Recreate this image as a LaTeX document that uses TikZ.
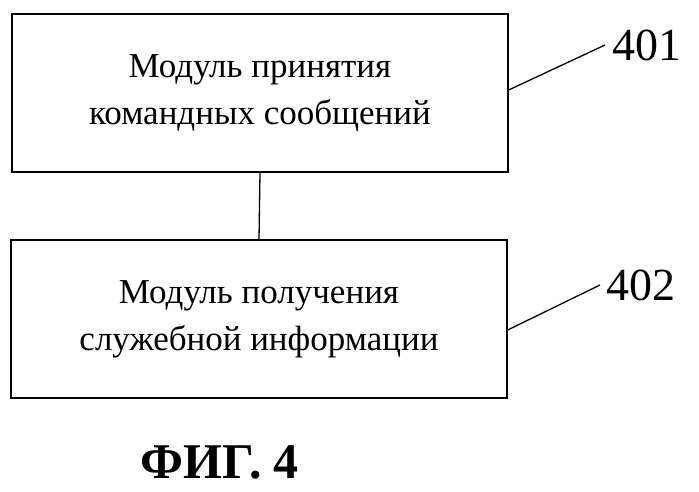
\documentclass[tikz,border=0pt]{standalone}
\usepackage{fontspec}
\setmainfont{Liberation Serif}
\begin{document}
\begin{tikzpicture}[x=1pt,y=-1pt,
  box/.style={draw,line width=1.3pt,minimum width=496pt,minimum height=158pt,align=center,font=\fontsize{35}{47}\selectfont,inner sep=0pt},
  lbl/.style={font=\fontsize{46}{50}\selectfont,inner sep=0pt},
  ln/.style={line width=1.3pt}]
\useasboundingbox (0,0) rectangle (699,491);
\node[box] (b1) at (260,93) {Модуль принятия\\командных сообщений};
\node[box] (b2) at (259,319) {Модуль получения\\служебной информации};
\draw[ln] (b1.south) -- (b2.north);
\coordinate (e1) at (605,45);
\coordinate (e2) at (600,285);
\draw[ln] (b1.east |- 0,90) -- (e1);
\draw[ln] (b2.east |- 0,330) -- (e2);
\node[lbl,anchor=west] (t1) at (612,45) {401};
\node[lbl,anchor=west] (t2) at (606,285) {402};
\node[font=\bfseries\fontsize{50}{54}\selectfont] (f) at (220,462) {ФИГ. 4};
\end{tikzpicture}
\end{document}
